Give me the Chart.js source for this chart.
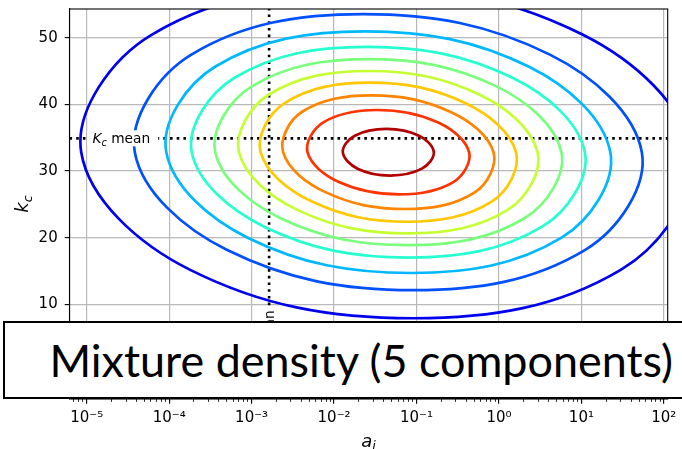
<!DOCTYPE html>
<html>
<head>
<meta charset="utf-8">
<title>Mixture density</title>
<script src="https://cdn.jsdelivr.net/npm/chart.js@4.4.1/dist/chart.umd.min.js"></script>
<style>
  html, body { margin: 0; padding: 0; background: #fff; overflow: hidden; }
  #wrap { position: relative; width: 682px; height: 449px; overflow: hidden; }
  #chart { position: absolute; left: 0; top: 0; }
  #banner {
    position: absolute; left: 3px; top: 321px; width: 720px; height: 74px;
    border: 2px solid #000; background: #fff;
  }
  #banner span {
    position: absolute; left: 44.5px; top: 14.5px;
    font-family: Lato, "Open Sans", sans-serif; font-size: 44.9px; line-height: 1;
    color: #000; white-space: nowrap;
  }
</style>
</head>
<body>
<div id="wrap">
  <canvas id="chart" width="682" height="449"></canvas>
  <div id="banner"><span>Mixture density (5 components)</span></div>
</div>
<script>
// axis ranges: a_i on a log axis, k_c linear
const aRange = [6.18e-6, 111.4];
const kcRange = [-4.2, 54.3];
const aTicks = [1e-5, 1e-4, 1e-3, 1e-2, 1e-1, 1, 10, 100];
const aTickLabels = ['10⁻⁵', '10⁻⁴', '10⁻³', '10⁻²', '10⁻¹', '10⁰', '10¹', '10²'];
const aMinorSteps = [2, 3, 4, 5, 6, 7, 8, 9];
const kcTicks = [0, 10, 20, 30, 40, 50];

// means of the fitted parameters
const aMean = 1.63e-3;
const kcMean = 34.9;

// density levels, lowest (outermost) first
const levelColors = ['#0000ee', '#0050ff', '#00b8ff', '#26ffd0', '#7aff7d',
                     '#c6ff31', '#ffc800', '#ff8400', '#ff3300', '#b30000'];

// contour outlines: log10(a_i) and k_c, going round each closed curve
const contourLogA = [
  [2.334, 1.019, -1.694, -4.214, -5.067, -3.751, -1.038, 1.482],
  [1.733, 0.618, -1.646, -3.731, -4.417, -3.302, -1.039, 1.047],
  [1.351, 0.365, -1.621, -3.444, -4.035, -3.049, -1.063, 0.760],
  [1.042, 0.164, -1.597, -3.208, -3.726, -2.848, -1.087, 0.524],
  [0.757, -0.030, -1.585, -2.998, -3.441, -2.654, -1.099, 0.314],
  [0.469, -0.233, -1.585, -2.794, -3.153, -2.451, -1.099, 0.110],
  [0.207, -0.410, -1.573, -2.600, -2.891, -2.274, -1.111, -0.084],
  [-0.066, -0.585, -1.548, -2.391, -2.618, -2.099, -1.136, -0.294],
  [-0.362, -0.743, -1.476, -2.130, -2.322, -1.941, -1.209, -0.554],
  [-0.790, -0.969, -1.366, -1.749, -1.894, -1.715, -1.318, -0.935]
];
const contourKc = [
  [32.82, 50.43, 57.73, 50.43, 32.82, 15.21, 7.91, 15.21],
  [32.82, 47.46, 53.53, 47.46, 32.82, 18.18, 12.12, 18.18],
  [32.82, 45.64, 50.95, 45.64, 32.82, 20.00, 14.70, 20.00],
  [32.82, 43.99, 48.62, 43.99, 32.82, 21.65, 17.02, 21.65],
  [32.82, 42.69, 46.77, 42.69, 32.82, 22.95, 18.87, 22.95],
  [32.82, 41.44, 45.00, 41.44, 32.82, 24.21, 20.64, 24.21],
  [32.82, 40.19, 43.25, 40.19, 32.82, 25.45, 22.39, 25.45],
  [32.82, 38.85, 41.34, 38.85, 32.82, 26.79, 24.30, 26.79],
  [32.82, 37.30, 39.15, 37.30, 32.82, 28.34, 26.49, 28.34],
  [32.82, 35.29, 36.32, 35.29, 32.82, 30.35, 29.32, 30.35]
];

Chart.defaults.font.family = '"DejaVu Sans", sans-serif';
Chart.defaults.color = '#000';

const contourSets = levelColors.map((color, i) => ({
  data: contourLogA[i].map((v, j) => ({ x: Math.pow(10, v), y: contourKc[i][j] })),
  borderColor: color,
  borderWidth: 2.7,
  tension: 0.375,
  capBezierPoints: false,
  closed: true
}));

const dotted = { borderColor: '#000', borderWidth: 2.6, borderDash: [2.6, 4.1], tension: 0 };
const meanSets = [
  Object.assign({ data: [{ x: aRange[0], y: kcMean }, { x: aRange[1], y: kcMean }] }, dotted),
  Object.assign({ data: [{ x: aMean, y: kcRange[0] }, { x: aMean, y: kcRange[1] }] }, dotted)
];

const minorTickValues = [];
for (let e = -6; e <= 2; e++) {
  aMinorSteps.forEach(m => {
    const v = m * Math.pow(10, e);
    if (v >= aRange[0] && v <= aRange[1]) minorTickValues.push(v);
  });
}

// the line element only closes its path for radar charts, so flag contour lines as loops
const closeContours = {
  id: 'closeContours',
  afterDatasetsUpdate(chart) {
    chart.data.datasets.forEach((ds, i) => {
      if (!ds.closed) return;
      const line = chart.getDatasetMeta(i).dataset;
      line._loop = true;
      line._fullLoop = true;
    });
  }
};

// italic symbol with a subscript, followed by optional plain text
function drawParts(ctx, parts, size, x, y, measureOnly) {
  let cx = x;
  parts.forEach(([txt, italic, sub]) => {
    const fs = sub ? size * 0.7 : size;
    ctx.font = (italic ? 'italic ' : '') + fs + 'px "DejaVu Sans"';
    if (!measureOnly) ctx.fillText(txt, cx, sub ? y + size * 0.22 : y);
    cx += ctx.measureText(txt).width;
  });
  return cx - x;
}

const annotations = {
  id: 'annotations',
  afterDatasetsDraw(chart) {
    const { ctx, chartArea: ca, scales } = chart;
    ctx.save();
    ctx.textAlign = 'left';
    ctx.textBaseline = 'alphabetic';
    ctx.fillStyle = '#000';

    // "K_c mean" on the horizontal mean line
    const kcParts = [['K', true], ['c', true, true], [' mean', false]];
    const ly = scales.y.getPixelForValue(kcMean);
    const lx = ca.left + 23;
    const lw = drawParts(ctx, kcParts, 13.75, 0, 0, true);
    ctx.fillStyle = '#fff';
    ctx.fillRect(lx - 5, ly - 8, lw + 13, 16);
    ctx.fillStyle = '#000';
    drawParts(ctx, kcParts, 13.75, lx, ly + 4.4);

    // "a_i mean" along the vertical mean line
    const aParts = [['a', true], ['i', true, true], [' mean', false]];
    const vx = scales.x.getPixelForValue(aMean);
    const vy = scales.y.getPixelForValue(9.1);
    const vw = drawParts(ctx, aParts, 13.75, 0, 0, true);
    ctx.save();
    ctx.translate(vx, vy);
    ctx.rotate(-Math.PI / 2);
    ctx.fillStyle = '#fff';
    ctx.fillRect(-vw - 5, -8, vw + 9, 16);
    ctx.fillStyle = '#000';
    drawParts(ctx, aParts, 13.75, -vw, 5);
    ctx.restore();

    // frame around the plot
    ctx.strokeStyle = '#000';
    ctx.lineWidth = 1.1;
    ctx.strokeRect(ca.left, ca.top, ca.right - ca.left, ca.bottom - ca.top);

    // axis titles
    const xw = drawParts(ctx, [['a', true], ['i', true, true]], 18, 0, 0, true);
    drawParts(ctx, [['a', true], ['i', true, true]], 18, (ca.left + ca.right) / 2 - xw / 2, 446.5);
    const yParts = [['k', true], ['c', true, true]];
    const yw = drawParts(ctx, yParts, 18, 0, 0, true);
    ctx.translate(28, (ca.top + ca.bottom) / 2);
    ctx.rotate(-Math.PI / 2);
    drawParts(ctx, yParts, 18, -yw / 2, 0);
    ctx.restore();
  }
};

new Chart(document.getElementById('chart'), {
  type: 'scatter',
  data: { datasets: contourSets.concat(meanSets) },
  options: {
    responsive: false,
    animation: false,
    events: [],
    layout: { padding: { top: 9, right: 14.3, left: 0, bottom: 0 } },
    plugins: { legend: { display: false }, tooltip: { enabled: false } },
    datasets: { scatter: { showLine: true, pointRadius: 0, clip: 0, fill: false } },
    scales: {
      x: {
        type: 'logarithmic',
        min: aRange[0],
        max: aRange[1],
        afterBuildTicks: s => { s.ticks = aTicks.map(v => ({ value: v })); },
        afterFit: s => { s.height = 50; s.paddingLeft = 0; s.paddingRight = 0; },
        ticks: {
          autoSkip: false, maxRotation: 0, padding: 5,
          font: { size: 15 },
          callback: (v, i) => aTickLabels[i]
        },
        grid: { color: '#b9b9b9', lineWidth: 1.2, tickLength: 4.8, tickColor: '#000', tickWidth: 1.1 },
        border: { color: '#000', width: 1.1 }
      },
      xMinor: {
        type: 'logarithmic',
        axis: 'x',
        position: { y: kcRange[0] },
        min: aRange[0],
        max: aRange[1],
        afterBuildTicks: s => { s.ticks = minorTickValues.map(v => ({ value: v })); },
        afterFit: s => { s.paddingLeft = 0; s.paddingRight = 0; },
        ticks: { display: false },
        grid: { drawOnChartArea: false, tickLength: 2.8, tickColor: '#000', tickWidth: 0.85 },
        border: { display: false }
      },
      y: {
        type: 'linear',
        min: kcRange[0],
        max: kcRange[1],
        afterBuildTicks: s => { s.ticks = kcTicks.map(v => ({ value: v })); },
        afterFit: s => { s.width = 69.5; s.paddingTop = 0; s.paddingBottom = 0; },
        ticks: { padding: 7, font: { size: 15 } },
        grid: { color: '#b9b9b9', lineWidth: 1.2, tickLength: 4.8, tickColor: '#000', tickWidth: 1.1 },
        border: { color: '#000', width: 1.1 }
      }
    }
  },
  plugins: [closeContours, annotations]
});
</script>
</body>
</html>
